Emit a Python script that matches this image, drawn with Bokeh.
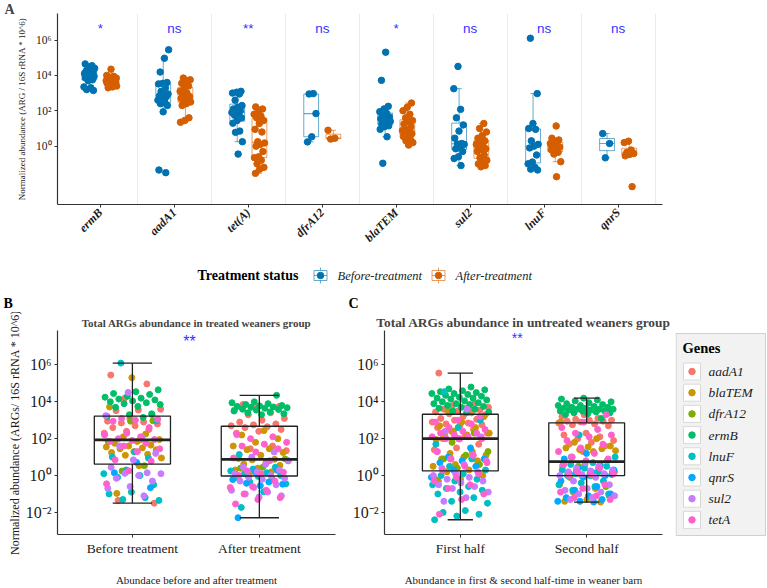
import math
import numpy as np
from bokeh.plotting import figure
from bokeh.models import Range1d, FixedTicker, CustomJSTickFormatter, Title
from bokeh.layouts import column, row
from bokeh.embed import file_html
from bokeh.resources import INLINE
from bokeh.core.properties import value

SERIF = "Liberation Serif"
SANS = "Liberation Sans"

# ---------------- data: log10 of normalized abundance ----------------
genes_A = ["ermB", "aadA1", "tet(A)", "dfrA12", "blaTEM", "sul2", "lnuF", "qnrS"]
sig_A = ["*", "ns", "**", "ns", "*", "ns", "ns", "ns"]
status_labels = ["Before-treatment", "After-treatment"]

ermB_before = [4.65, 4.55, 4.45, 4.4, 4.3, 4.25, 4.2, 4.15, 4.1, 4.05, 4.0, 3.95, 3.9, 3.85, 3.75, 3.7, 3.35, 3.3, 3.2, 3.15]
ermB_after = [4.35, 4.0, 3.95, 3.9, 3.85, 3.8, 3.78, 3.75, 3.72, 3.7, 3.68, 3.65, 3.6, 3.58, 3.55, 3.5, 3.45, 3.4, 3.35, 3.3]
aadA1_before = [5.45, 4.97, 4.19, 3.6, 3.55, 3.52, 3.3, 3.1, 2.95, 2.9, 2.85, 2.8, 2.7, 2.6, 2.5, 2.4, 2.3, 1.94, -1.35, -1.5]
aadA1_after = [3.85, 3.75, 3.7, 3.55, 3.4, 3.3, 3.1, 3.0, 2.9, 2.8, 2.75, 2.7, 2.65, 2.6, 2.5, 2.4, 2.3, 1.6, 1.45, 1.35]
tetA_before = [3.1, 3.05, 3.0, 2.95, 2.6, 2.3, 2.2, 2.1, 2.0, 1.95, 1.9, 1.85, 1.75, 1.6, 1.45, 1.3, 0.85, 0.78, 0.25, -0.45]
tetA_after = [2.22, 2.1, 2.0, 1.8, 1.7, 1.6, 1.45, 1.28, 0.95, 0.8, 0.25, 0.18, 0.1, 0.0, -0.3, -0.6, -0.65, -0.8, -1.0, -1.2, -1.3, -1.54]
dfrA12_before = [2.97, 2.95, 1.84, 0.53, 0.24]
dfrA12_after = [0.9, 0.45, 0.4]
blaTEM_before = [5.31, 3.72, 2.25, 2.1, 1.95, 1.85, 1.75, 1.65, 1.6, 1.55, 1.5, 1.45, 1.4, 1.3, 1.25, 1.15, 1.1, 0.95, 0.53, -0.97]
blaTEM_after = [2.44, 2.2, 2.0, 1.8, 1.6, 1.45, 1.4, 1.25, 1.1, 0.92, 0.88, 0.85, 0.8, 0.7, 0.62, 0.55, 0.4, 0.3, 0.2, 0.06]
sul2_before = [4.51, 3.25, 2.08, 1.6, 1.2, 0.85, 0.45, 0.15, 0.12, 0.1, 0.0, -0.15, -0.3, -0.6, -0.7, -1.1]
sul2_after = [1.28, 1.0, 0.8, 0.6, 0.45, 0.3, 0.2, 0.1, 0.0, -0.1, -0.15, -0.2, -0.3, -0.5, -0.65, -0.8, -0.9, -1.0, -1.1, -1.17]
lnuF_before = [6.1, 2.97, 1.28, 1.0, 0.95, 0.3, 0.1, 0.0, -0.1, -0.5, -0.9, -1.0, -1.2, -1.3, -1.35]
lnuF_after = [1.14, 0.45, 0.35, 0.25, 0.15, 0.1, 0.0, -0.05, -0.1, -0.2, -0.35, -0.45, -0.88, -1.73]
qnrS_before = [0.71, 0.15, -0.66]
qnrS_after = [0.28, 0.2, -0.22, -0.35, -0.42, -0.47, -0.55, -2.29]

# untreated weaners barn (panel C)
ermB_first = [4.8, 4.7, 4.65, 4.6, 4.55, 4.5, 4.45, 4.45, 4.4, 4.35, 4.3, 4.25, 4.2, 4.2, 4.15, 4.1, 4.05, 4.0, 3.95, 3.9, 3.9, 3.85, 3.8, 3.75, 3.7, 3.65, 3.6, 3.5, 3.45, 3.4]
aadA1_first = [5.56, 3.9, 3.8, 3.7, 3.65, 3.6, 3.55, 3.5, 3.45, 3.4, 3.35, 3.3, 3.2, 3.1, 3.05, 3.0, 2.9, 2.85, 2.8, 2.75, 2.7, 2.6, 2.5, 2.4, 2.3, 2.2, 2.0, 1.7, 1.5, 1.4]
blaTEM_first = [3.6, 3.5, 3.2, 2.9, 2.7, 2.6, 2.4, 2.3, 2.2, 2.15, 2.05, 2.0, 1.95, 1.3, 1.2, 1.1, 1.0, 0.9, 0.8, 0.6, 0.5, 0.3, 0.2, 0.0, -0.2, -0.3]
dfrA12_first = [2.3, 1.8, 1.3, 1.1, 0.9, 0.6, 0.4, -0.2]
lnuF_first = [4.55, 3.0, 2.6, 1.7, 0.9, 0.5, 0.3, 0.1, 0.0, -0.2, -0.3, -0.5, -0.6, -0.7, -0.8, -0.9, -1.0, -1.2, -1.4, -1.5, -1.9, -2.0, -2.1, -2.2, -2.4]
qnrS_first = [1.5, 1.0, 0.9, 0.8, 0.7, 0.5, 0.3, -0.1]
sul2_first = [3.6, 2.4, 2.1, 2.0, 1.3, 1.1, 0.9, 0.8, 0.6, 0.4, 0.2, 0.1, 0.0, -0.1, -0.2, -0.3, -0.4, -0.5, -0.6, -0.7, -0.9, -1.2, -1.4]
tetA_first = [3.2, 3.0, 2.9, 2.8, 2.6, 2.5, 2.4, 2.3, 2.3, 2.2, 2.1, 2.1, 2.0, 2.0, 1.98, 1.3, 1.1, 0.9, 0.7, 0.5, 0.3, 0.1, -0.1, -0.3, -0.5, -0.7, -1.0, -1.3, -2.1]

ermB_second = [4.2, 4.15, 4.1, 4.05, 4.0, 3.95, 3.9, 3.85, 3.8, 3.8, 3.75, 3.7, 3.7, 3.65, 3.65, 3.6, 3.6, 3.6, 3.55, 3.55, 3.5, 3.5, 3.5, 3.45, 3.4, 3.4, 3.35, 3.3, 3.1]
aadA1_second = [3.7, 3.5, 3.3, 3.2, 3.1, 3.05, 3.0, 3.0, 2.95, 2.95, 2.9, 2.85, 2.8, 2.75, 2.7, 2.3, 2.2, 2.1, 2.0, 1.9, 1.8, 1.7, 1.6, 1.3]
blaTEM_second = [2.9, 2.0, 1.8, 1.6, 1.55, 1.5, 1.45, 1.4, 1.35, 1.3, 1.0, 0.8, 0.6, 0.5, 0.4, 0.3, 0.2, 0.15, 0.1, 0.05, 0.0, -0.5, -0.7, -0.9, -1.1, -1.3, -1.4, -1.44]
dfrA12_second = [0.5, 0.2, 0.0, -0.1, -0.6]
lnuF_second = [2.2, 1.0, 0.7, 0.6, 0.5, 0.4, 0.3, 0.2, 0.1, 0.05, 0.0, 0.0, -0.3, -0.4, -0.5, -0.6, -0.8, -1.0]
qnrS_second = [1.2, 0.9, 0.6, 0.4, 0.3, 0.2, 0.1, 0.0, -0.1, -0.3, -0.6, -0.8, -1.0, -1.1, -1.2, -1.3, -1.4, -1.4, -1.44]
sul2_second = [1.0, 0.8, 0.7, 0.6, 0.5, 0.4, 0.3, 0.25, 0.2, 0.1, 0.05, 0.0, -0.1, -0.3, -0.5, -0.7, -0.8, -0.9, -1.0, -1.1, -1.2, -1.3]
tetA_second = [3.3, 2.9, 2.6, 2.5, 2.3, 2.2, 2.1, 1.9, 1.7, 1.5, 1.3, 1.2, 1.0, 0.9, 0.8, 0.6, 0.4, 0.2, 0.1, 0.05, 0.0, -0.5, -0.7, -0.9, -1.1, -1.2, -1.3]

legend_genes = ["aadA1", "blaTEM", "dfrA12", "ermB", "lnuF", "qnrS", "sul2", "tetA"]
gene_colors = ["#F8766D", "#CD9600", "#7CAE00", "#00BE67", "#00BFC4", "#00A9FF", "#C77CFF", "#FF61CC"]
B_categories = ["Before treatment", "After treatment"]
C_categories = ["First half", "Second half"]
sig_B = "**"
sig_C = "**"

A_before = [ermB_before, aadA1_before, tetA_before, dfrA12_before, blaTEM_before, sul2_before, lnuF_before, qnrS_before]
A_after = [ermB_after, aadA1_after, tetA_after, dfrA12_after, blaTEM_after, sul2_after, lnuF_after, qnrS_after]
B_groups = [
    dict(aadA1=aadA1_before, blaTEM=blaTEM_before, dfrA12=dfrA12_before, ermB=ermB_before,
         lnuF=lnuF_before, qnrS=qnrS_before, sul2=sul2_before, tetA=tetA_before),
    dict(aadA1=aadA1_after, blaTEM=blaTEM_after, dfrA12=dfrA12_after, ermB=ermB_after,
         lnuF=lnuF_after, qnrS=qnrS_after, sul2=sul2_after, tetA=tetA_after),
]
C_groups = [
    dict(aadA1=aadA1_first, blaTEM=blaTEM_first, dfrA12=dfrA12_first, ermB=ermB_first,
         lnuF=lnuF_first, qnrS=qnrS_first, sul2=sul2_first, tetA=tetA_first),
    dict(aadA1=aadA1_second, blaTEM=blaTEM_second, dfrA12=dfrA12_second, ermB=ermB_second,
         lnuF=lnuF_second, qnrS=qnrS_second, sul2=sul2_second, tetA=tetA_second),
]

BLUE = "#0072B2"
ORANGE = "#D55E00"
AXIS_COL = "#333333"
TICK_TXT = "#1a1a1a"

# ---------------- helpers ----------------
def box_stats(vals):
    v = np.asarray(vals, dtype=float)
    q1, med, q3 = np.percentile(v, [25, 50, 75])
    iqr = q3 - q1
    lo = v[v >= q1 - 1.5 * iqr].min()
    hi = v[v <= q3 + 1.5 * iqr].max()
    return q1, med, q3, lo, hi


def jitter(n, half, start=0):
    return np.array([(((start + k) * 0.6180339887 + 0.13) % 1.0 - 0.5) * 2 * half for k in range(n)])


SUP = CustomJSTickFormatter(code=r"""
const s = {"-": "\u207b", "0": "\u2070", "1": "\u00b9", "2": "\u00b2", "3": "\u00b3",
           "4": "\u2074", "5": "\u2075", "6": "\u2076", "7": "\u2077", "8": "\u2078", "9": "\u2079"};
const e = Math.round(Math.log10(tick));
return "10" + String(e).split("").map(c => s[c]).join("");
""")


def style(p, ytick_size, xtick_size):
    p.outline_line_color = None
    p.background_fill_color = "white"
    for ax in (p.xaxis[0], p.yaxis[0]):
        ax.axis_line_color = AXIS_COL
        ax.axis_line_width = 1.2
        ax.major_tick_line_color = AXIS_COL
        ax.major_tick_out = 3
        ax.major_tick_in = 0
        ax.minor_tick_line_color = None
        ax.major_label_text_font = SERIF
        ax.major_label_text_color = TICK_TXT
        ax.axis_label_text_font = SERIF
        ax.axis_label_text_font_style = "normal"
        ax.axis_label_text_color = TICK_TXT
        ax.major_label_standoff = 3
    p.yaxis[0].major_label_text_font_size = ytick_size
    p.xaxis[0].major_label_text_font_size = xtick_size
    p.yaxis[0].formatter = SUP


def draw_box(p, x, st, w, cap_w, color, alpha, lw, med_lw):
    q1, med, q3, lo, hi = st
    p.quad(left=[x - w / 2], right=[x + w / 2], bottom=[10 ** q1], top=[10 ** q3],
           fill_color=None, line_color=color, line_alpha=alpha, line_width=lw)
    p.segment(x0=[x - w / 2], x1=[x + w / 2], y0=[10 ** med], y1=[10 ** med],
              line_color=color, line_alpha=alpha, line_width=med_lw)
    p.segment(x0=[x, x], x1=[x, x], y0=[10 ** q3, 10 ** q1], y1=[10 ** hi, 10 ** lo],
              line_color=color, line_alpha=alpha, line_width=lw)
    p.segment(x0=[x - cap_w / 2, x - cap_w / 2], x1=[x + cap_w / 2, x + cap_w / 2],
              y0=[10 ** hi, 10 ** lo], y1=[10 ** hi, 10 ** lo],
              line_color=color, line_alpha=alpha, line_width=lw)


def blank(width, height):
    p = figure(width=width, height=height, x_range=Range1d(0, width), y_range=Range1d(0, height),
               output_backend="svg", toolbar_location=None, x_axis_location=None, y_axis_location=None,
               min_border=0, frame_align=False)
    p.outline_line_color = None
    p.grid.grid_line_color = None
    return p


# ---------------- panel A ----------------
pA = figure(width=767, height=258, x_range=Range1d(0.42, 8.6), y_range=Range1d(10 ** -3.3, 10 ** 7.5),
            y_axis_type="log", output_backend="svg", toolbar_location=None, frame_align=False,
            min_border_left=57, min_border_right=105, min_border_top=13, min_border_bottom=54)
pA.add_layout(Title(text="A", align="left", offset=-53, text_font=SERIF, text_font_size="14px",
                    text_font_style="bold", standoff=-6), "above")
style(pA, "11.5px", "12px")
pA.xaxis[0].ticker = FixedTicker(ticks=list(range(1, len(genes_A) + 1)))
pA.xaxis[0].major_label_overrides = {i + 1: g for i, g in enumerate(genes_A)}
pA.xaxis[0].major_label_orientation = math.pi / 4
pA.xaxis[0].major_label_text_font_style = "bold italic"
pA.yaxis[0].ticker = FixedTicker(ticks=[1, 1e2, 1e4, 1e6])
pA.yaxis[0].axis_label = "Normalized abundance (ARG / 16S rRNA * 10^6)"
pA.yaxis[0].axis_label_text_font_size = "9px"
pA.yaxis[0].axis_label_standoff = 6
pA.xgrid.ticker = FixedTicker(ticks=[i + 1.5 for i in range(len(genes_A))])
pA.xgrid.grid_line_color = "#ebebeb"
pA.ygrid.grid_line_color = None

for data, color, dx in [(A_before, BLUE, -0.15), (A_after, ORANGE, 0.15)]:
    for i, vals in enumerate(data):
        draw_box(pA, i + 1 + dx, box_stats(vals), 0.2, 0.07, color, 0.6, 1.0, 1.2)
for data, color, dx, st in [(A_before, BLUE, -0.15, 0), (A_after, ORANGE, 0.15, 7)]:
    for i, vals in enumerate(data):
        xs = i + 1 + dx + jitter(len(vals), 0.075, start=st + i * 3)
        pA.scatter(x=xs, y=[10 ** v for v in vals], size=6.5, fill_color=color, line_color=color)
pA.text(x=list(range(1, len(genes_A) + 1)), y=[10 ** 6.65] * len(genes_A), text=sig_A,
        text_font=value(SANS), text_font_size="13.5px", text_color="#3333ff",
        text_align="center", text_baseline="alphabetic")

# ---------------- legend of panel A + panel letters B, C ----------------
pL = blank(767, 54)
pL.text(x=[197], y=[37], text=["Treatment status"], text_font=value(SERIF), text_font_size="14px",
        text_font_style="bold", text_baseline="middle", text_color="black")
for kx, color, lab in [(320, BLUE, status_labels[0]), (438, ORANGE, status_labels[1])]:
    pL.segment(x0=[kx], x1=[kx], y0=[29], y1=[45], line_color=color, line_alpha=0.6)
    pL.rect(x=[kx], y=[37], width=13, height=10, fill_color="white", line_color=color, line_alpha=0.6)
    pL.segment(x0=[kx - 6.5], x1=[kx + 6.5], y0=[37], y1=[37], line_color=color, line_alpha=0.6)
    pL.scatter(x=[kx], y=[37], size=6.5, fill_color=color, line_color=color)
    pL.text(x=[kx + 17], y=[37], text=[lab], text_font=value(SERIF), text_font_size="12.5px",
            text_font_style="italic", text_baseline="middle", text_color="#222222")
pL.text(x=[3, 348], y=[9, 9], text=["B", "C"], text_font=value(SERIF), text_font_size="14px",
        text_font_style="bold", text_baseline="middle", text_color="black")


# ---------------- panels B and C ----------------
def total_panel(width, left_border, right_border, xlo, xhi, groups, cats, title, title_size, title_standoff,
                cap_w, star, star_y, star_size):
    p = figure(width=width, height=276, x_range=Range1d(xlo, xhi), y_range=Range1d(10 ** -3.2, 10 ** 7.87),
               y_axis_type="log", output_backend="svg", toolbar_location=None, frame_align=False,
               min_border_left=left_border, min_border_right=right_border, min_border_top=18,
               min_border_bottom=50)
    p.add_layout(Title(text=title, align="center", text_font=SERIF, text_font_size=title_size,
                       text_font_style="bold", standoff=title_standoff), "above")
    style(p, "16px", "13.5px")
    p.xgrid.grid_line_color = None
    p.ygrid.grid_line_color = None
    p.xaxis[0].ticker = FixedTicker(ticks=[1, 2])
    p.xaxis[0].major_label_overrides = {i + 1: c for i, c in enumerate(cats)}
    p.yaxis[0].ticker = FixedTicker(ticks=[1e-2, 1, 1e2, 1e4, 1e6])
    p.xaxis[0].axis_label_text_font_size = "11px"
    p.xaxis[0].axis_label_standoff = 15
    gx = {g: [] for g in legend_genes}
    gy = {g: [] for g in legend_genes}
    for pos, grp in enumerate(groups):
        k = 0
        for g in legend_genes:
            vals = grp[g]
            xs = pos + 1 + jitter(len(vals), 0.23, start=k + pos * 5)
            k += len(vals)
            gx[g].extend(xs.tolist())
            gy[g].extend([10 ** v for v in vals])
    for g, c in zip(legend_genes, gene_colors):
        p.scatter(x=gx[g], y=gy[g], size=6, fill_color=c, line_color=c)
    for pos, grp in enumerate(groups):
        allv = [v for g in legend_genes for v in grp[g]]
        draw_box(p, pos + 1, box_stats(allv), 0.6, cap_w, "#222222", 1.0, 1.3, 2.8)
    p.text(x=[1.45], y=[10 ** star_y], text=[star], text_font=value(SANS), text_font_size=star_size,
           text_color="#3333ff", text_align="center", text_baseline="alphabetic")
    return p


pB = total_panel(345, 57, 10, 0.41, 2.6, B_groups, B_categories,
                 "Total ARGs abundance in treated weaners group", "11px", 3, 0.31, sig_B, 7.3, "16px")
pB.xaxis[0].axis_label = "Abundace before and after treatment"
pB.add_layout(Title(text="Normalized abundance (ARGs/ 16S rRNA * 10^6)", align="center", text_font=SERIF,
                    text_font_size="12px", text_font_style="normal", text_color=TICK_TXT, standoff=2), "left")

pC = total_panel(330, 39, 13, 0.40, 2.6, C_groups, C_categories,
                 "Total ARGs abundance in untreated weaners group", "13.4px", 1, 0.2, sig_C, 7.45, "14px")
pC.xaxis[0].axis_label = "Abundance in first & second half-time in weaner barn"

# ---------------- legend "Genes" ----------------
pG = blank(92, 276)
pG.quad(left=[0.5], right=[90], bottom=[53], top=[255], fill_color="#f2f2f2", line_color="#d0d0d0")
pG.text(x=[7], y=[241], text=["Genes"], text_font=value(SERIF), text_font_size="14.5px",
        text_font_style="bold", text_baseline="middle", text_color="black")
key_y = [217 - 21.2 * i for i in range(len(legend_genes))]
pG.rect(x=[16.5] * len(legend_genes), y=key_y, width=17, height=17, fill_color="white", line_color="#d9d9d9")
pG.scatter(x=[16.5] * len(legend_genes), y=key_y, size=6.5, fill_color=gene_colors, line_color=gene_colors)
pG.text(x=[33] * len(legend_genes), y=key_y, text=legend_genes, text_font=value(SERIF), text_font_size="13.5px",
        text_font_style="italic", text_baseline="middle", text_color="#222222")

layout = column(pA, pL, row(pB, pC, pG))
open("out.html", "w").write(file_html(layout, INLINE))
